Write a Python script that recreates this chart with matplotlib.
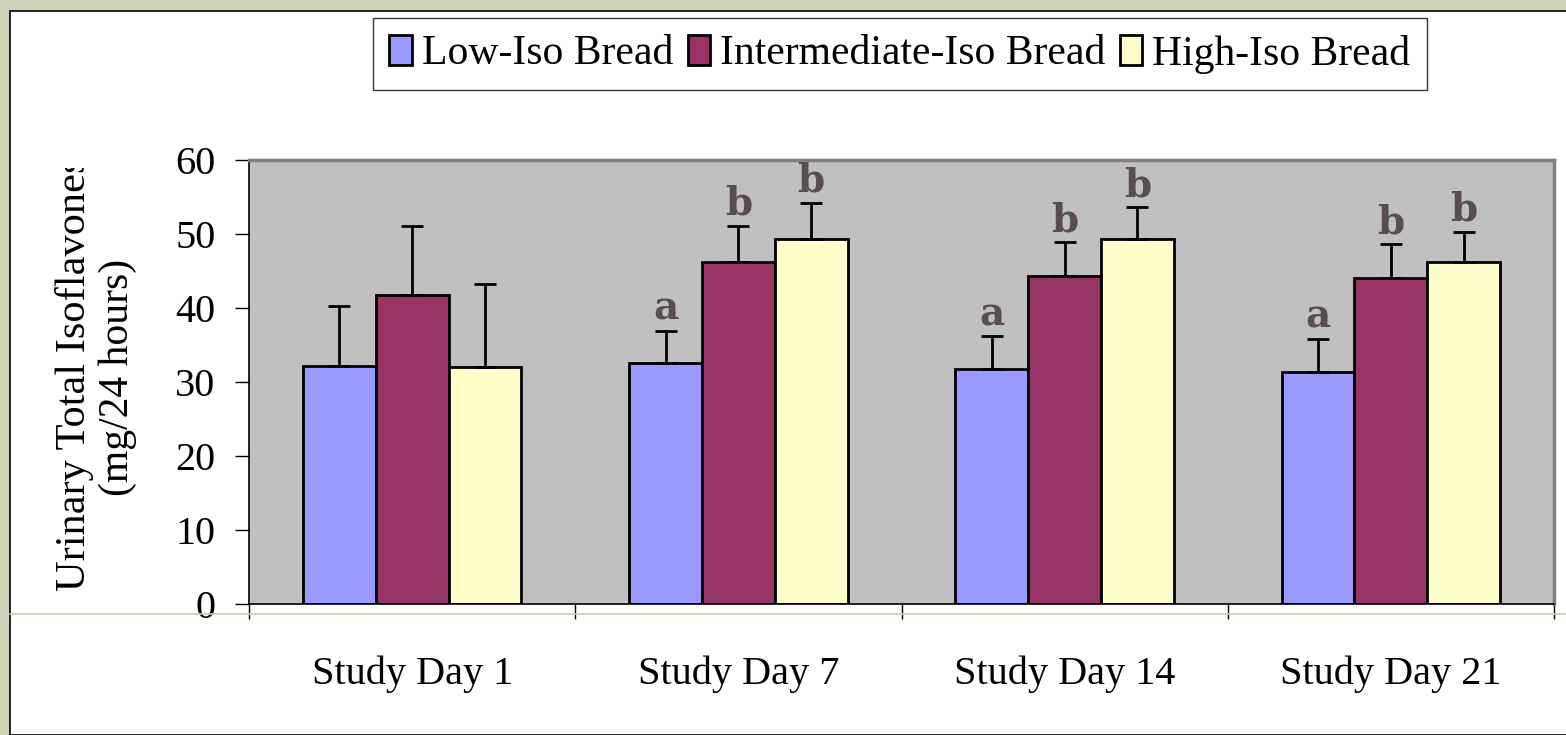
import matplotlib.pyplot as plt
import numpy as np
from matplotlib.patches import Rectangle
from matplotlib.lines import Line2D
from matplotlib.transforms import Bbox

# donnees
jours = ['Study Day 1', 'Study Day 7', 'Study Day 14', 'Study Day 21']
series = ['Low-Iso Bread', 'Intermediate-Iso Bread', 'High-Iso Bread']
couleurs = ['#9999FF', '#993366', '#FFFFCC']

moyennes = [
    [32.2, 32.6, 31.8, 31.4],   # Low
    [41.8, 46.2, 44.3, 44.1],   # Intermediate
    [32.0, 49.3, 49.3, 46.2],   # High
]
hauts_erreur = [
    [40.3, 36.9, 36.2, 35.8],
    [51.1, 51.1, 48.9, 48.6],
    [43.2, 54.2, 53.6, 50.3],
]
lettres = [
    ['', 'a', 'a', 'a'],
    ['', 'b', 'b', 'b'],
    ['', 'b', 'b', 'b'],
]

plt.rcParams['font.family'] = ['Liberation Serif', 'DejaVu Serif']

W, H = 1566, 735
fig = plt.figure(figsize=(W / 100, H / 100), dpi=100)
fig.patch.set_facecolor('#CED3BC')

# panneau blanc avec bord noir
fond = Rectangle((9.5 / W, 0), 1, 1 - 10.5 / H, transform=fig.transFigure,
                 facecolor='white', edgecolor='black', lw=1.2, zorder=0)
fig.add_artist(fond)
fig.add_artist(Line2D([10 / W, 1], [1 - 614 / H, 1 - 614 / H], transform=fig.transFigure,
                      color='#C8CCB0', lw=1.2, zorder=0.5))

ax = fig.add_axes([249 / W, 1 - 604 / H, (1554 - 249) / W, (604 - 160) / H])
ax.set_facecolor('#C0C0C0')

x = np.arange(len(jours))
largeur = 0.223
for i in range(3):
    pos = x + (i - 1) * largeur
    err = np.array(hauts_erreur[i]) - np.array(moyennes[i])
    ax.bar(pos, moyennes[i], largeur, color=couleurs[i], edgecolor='black', lw=2,
           label=series[i], zorder=2)
    ax.errorbar(pos, moyennes[i], yerr=[np.zeros(len(err)), err], fmt='none',
                ecolor='black', elinewidth=2, capsize=7.6, capthick=2, zorder=3)
    for j in range(len(jours)):
        if lettres[i][j]:
            ax.text(pos[j], hauts_erreur[i][j] + 1.5, lettres[i][j], ha='center',
                    va='baseline', family='DejaVu Serif', fontweight='bold',
                    fontsize=28, color='#5A4D4D', zorder=4)

ax.set_xlim(-0.5, len(jours) - 0.5)
ax.set_ylim(0, 60)
ax.set_yticks(range(0, 61, 10))
ax.tick_params(axis='y', direction='out', length=10, width=1, labelsize=29, pad=14)

ax.set_xticks(np.arange(len(jours) + 1) - 0.5)
ax.set_xticklabels([])
ax.set_xticks(x, minor=True)
ax.set_xticklabels(jours, minor=True)
ax.tick_params(axis='x', which='major', direction='out', length=11, width=1)
ax.tick_params(axis='x', which='minor', length=0, labelsize=29, pad=37)

for cote in ['left', 'bottom']:
    ax.spines[cote].set_color('black')
    ax.spines[cote].set_linewidth(1.2)
for cote in ['top', 'right']:
    ax.spines[cote].set_color('#808080')
    ax.spines[cote].set_linewidth(2.5)

# titre de l'axe y, coupe en haut comme sur l'original
clip = Bbox.from_extents(0, 0, W, H - 168)
t1 = fig.text(75 / W, 1 - 374 / H, 'Urinary Total Isoflavones', rotation=90,
              ha='center', va='center', fontsize=30.5)
t1.set_clip_box(clip)
t1.set_clip_on(True)
fig.text(118 / W, 1 - 377 / H, '(mg/24 hours)', rotation=90,
         ha='center', va='center', fontsize=30)

leg = fig.legend(loc='center', bbox_to_anchor=(900 / W, 1 - 54 / H), ncol=3,
                 fontsize=30, frameon=True, fancybox=False, handlelength=0.53,
                 handleheight=0.7, handletextpad=0.24, columnspacing=0.36,
                 borderpad=0.4, borderaxespad=0)
leg.get_frame().set_edgecolor('black')
leg.get_frame().set_linewidth(1)
for p in leg.get_patches():
    p.set_linewidth(2)

fig.savefig('out.png', dpi=100, facecolor=fig.get_facecolor())
